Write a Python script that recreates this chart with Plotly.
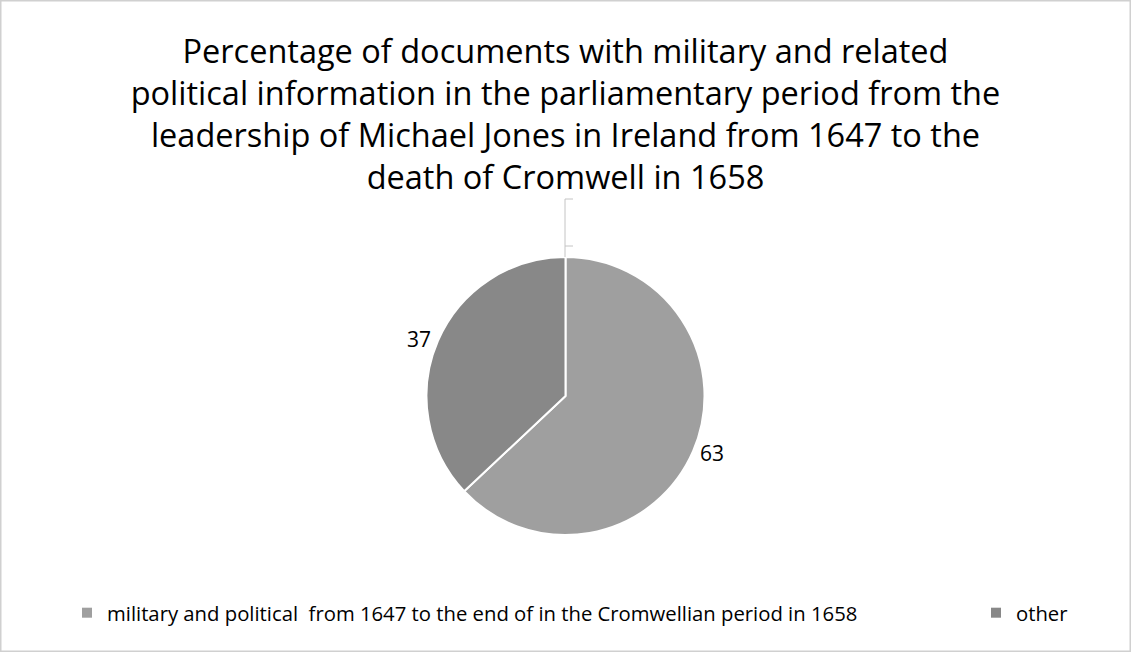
import plotly.graph_objects as go

# ---- data ----
labels = ["military and political  from 1647 to the end of in the Cromwellian period in 1658", "other"]
values = [63, 37]
colors = ["#9f9f9f", "#888888"]
title_lines = [
    "Percentage of documents with military and related",
    "political information in the parliamentary period from the",
    "leadership of Michael Jones in Ireland from 1647 to the",
    "death of Cromwell in 1658",
]

W, H = 1131, 652
FONT = "Open Sans"

def px(x):
    return x / W

def py(y):
    return 1 - y / H

fig = go.Figure()
fig.add_trace(go.Pie(
    labels=labels,
    values=values,
    sort=False,
    direction="clockwise",
    rotation=0,
    marker=dict(colors=colors, line=dict(color="white", width=2)),
    textinfo="value",
    textposition="outside",
    textfont=dict(family=FONT, size=21, color="#000000"),
    domain=dict(x=[0, 1], y=[0.1794, 0.6058]),
    hoverinfo="label+value",
    showlegend=False,
))

# legend entries (one legend per category, placed like the reference)
legend_names = ["legend", "legend2"]
for lab, col, lg in zip(labels, colors, legend_names):
    fig.add_trace(go.Scatter(
        x=[None], y=[None], mode="markers", name=lab,
        marker=dict(symbol="square", size=10, color=col),
        legend=lg, showlegend=True, hoverinfo="skip",
    ))

shapes = [
    dict(type="rect", xref="paper", yref="paper", x0=px(0.75), x1=px(W - 0.75), y0=py(H - 0.75), y1=py(0.75),
         line=dict(color="#d0d0d0", width=1.5), fillcolor="rgba(0,0,0,0)", layer="below"),
    dict(type="line", xref="paper", yref="paper", x0=px(565), x1=px(565), y0=py(199), y1=py(257),
         line=dict(color="#c4c4c4", width=1)),
    dict(type="line", xref="paper", yref="paper", x0=px(565), x1=px(573), y0=py(199), y1=py(199),
         line=dict(color="#c4c4c4", width=1)),
    dict(type="line", xref="paper", yref="paper", x0=px(565), x1=px(573), y0=py(246), y1=py(246),
         line=dict(color="#c4c4c4", width=1)),
]

legend_font = dict(family=FONT, size=20.3, color="#000000")
fig.update_layout(
    width=W, height=H,
    margin=dict(l=0, r=0, t=0, b=0, autoexpand=False),
    paper_bgcolor="white",
    plot_bgcolor="white",
    font=dict(family=FONT, color="#000000"),
    xaxis=dict(visible=False),
    yaxis=dict(visible=False),
    title=dict(
        text="<br>".join(title_lines),
        x=0.5, xanchor="center",
        y=py(62.5), yanchor="top", yref="container",
        font=dict(family=FONT, size=32.5, color="#000000"),
        automargin=False,
    ),
    showlegend=True,
    legend=dict(
        orientation="h", x=px(67), xanchor="left", y=py(613), yanchor="middle",
        font=legend_font, bgcolor="rgba(0,0,0,0)",
    ),
    legend2=dict(
        orientation="h", x=px(976), xanchor="left", y=py(613), yanchor="middle",
        font=legend_font, bgcolor="rgba(0,0,0,0)",
    ),
    shapes=shapes,
)

fig.write_html(
    "out.html",
    config={"displayModeBar": False},
    post_script="document.body.style.margin='0';document.body.style.overflow='hidden';",
)
